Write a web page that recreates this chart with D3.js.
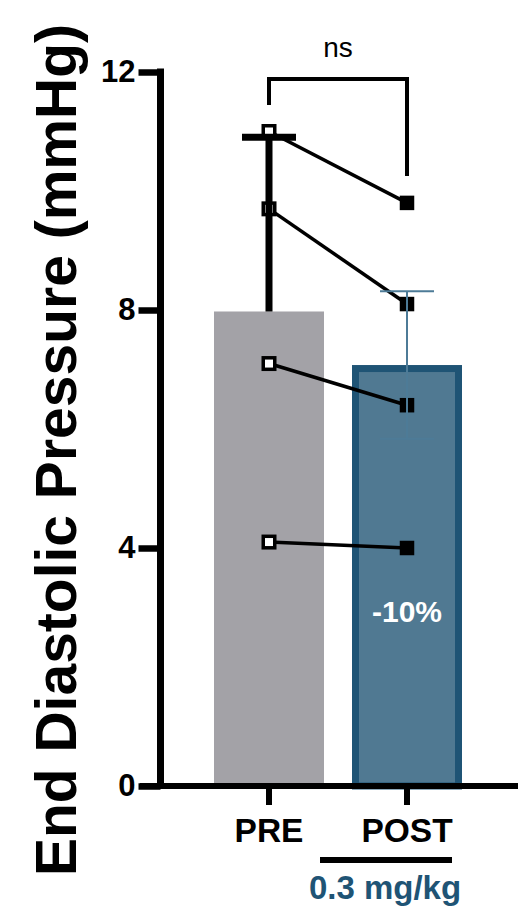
<!DOCTYPE html>
<html>
<head>
<meta charset="utf-8">
<script src="https://cdn.jsdelivr.net/npm/d3@7"></script>
<style>
  html, body { margin: 0; padding: 0; background: #fff; }
  svg { display: block; font-family: "Liberation Sans", Arial, Helvetica, sans-serif; }
</style>
</head>
<body>
<svg id="chart" width="529" height="906"></svg>
<script>
// Groups and values (mmHg)
const categories = ["PRE", "POST"];
const preValues = [11.0, 9.7, 7.1, 4.1];
const postValues = [9.8, 8.1, 6.4, 4.0];
const errorValues = [2.93, 1.24];          // PRE: upward only, POST: both directions
const yTicks = [0, 4, 8, 12];
const yTitle = "End Diastolic Pressure (mmHg)";
const changeLabel = "-10%";
const doseLabel = "0.3 mg/kg";
const sigLabel = "ns";

const means = [d3.mean(preValues), d3.mean(postValues)];

const svg = d3.select("#chart");

const y = d3.scaleLinear().domain([0, 12]).range([786, 72]);
const x = d3.scaleBand().domain(categories)
  .range([200, 476]).paddingInner(28 / 138).paddingOuter(14 / 138);
const cx = c => x(c) + x.bandwidth() / 2;

const axisX = 160.5;

// Bars
const preFill = "#a3a2a7";
const postFill = "#507992";
const postStroke = "#1f5475";
const postStrokeW = 7;

svg.append("rect")
  .attr("x", x("PRE")).attr("width", x.bandwidth())
  .attr("y", y(means[0])).attr("height", y(0) - y(means[0]))
  .attr("fill", preFill);

svg.append("rect")
  .attr("x", x("POST") + postStrokeW / 2).attr("width", x.bandwidth() - postStrokeW)
  .attr("y", y(means[1]) + postStrokeW / 2).attr("height", y(0) - y(means[1]) - postStrokeW / 2)
  .attr("fill", postFill).attr("stroke", postStroke).attr("stroke-width", postStrokeW);

// Paired lines between PRE and POST
const pairs = preValues.map((v, i) => [v, postValues[i]]);
svg.append("g").selectAll("line").data(pairs).join("line")
  .attr("x1", cx("PRE")).attr("y1", d => y(d[0]))
  .attr("x2", cx("POST")).attr("y2", d => y(d[1]))
  .attr("stroke", "#000").attr("stroke-width", 3.5);

// Markers
const ms = 11.5;
svg.append("g").selectAll("rect").data(preValues).join("rect")
  .attr("x", cx("PRE") - ms / 2).attr("y", d => y(d) - ms / 2)
  .attr("width", ms).attr("height", ms)
  .attr("fill", "#fff").attr("stroke", "#000").attr("stroke-width", 3.5);
const ms2 = 14.5;
svg.append("g").selectAll("rect").data(postValues).join("rect")
  .attr("x", cx("POST") - ms2 / 2).attr("y", d => y(d) - ms2 / 2)
  .attr("width", ms2).attr("height", ms2)
  .attr("fill", "#000");

// Error bars
const capW = 54;
const preTop = y(means[0] + errorValues[0]);
svg.append("line")
  .attr("x1", cx("PRE")).attr("x2", cx("PRE"))
  .attr("y1", y(means[0])).attr("y2", preTop)
  .attr("stroke", "#000").attr("stroke-width", 7);
svg.append("line")
  .attr("x1", cx("PRE") - capW / 2).attr("x2", cx("PRE") + capW / 2)
  .attr("y1", preTop).attr("y2", preTop)
  .attr("stroke", "#000").attr("stroke-width", 7);

const errCol = "#4d7b97";
const pHi = y(means[1] + errorValues[1]);
const pLo = y(means[1] - errorValues[1]);
svg.append("line")
  .attr("x1", cx("POST")).attr("x2", cx("POST"))
  .attr("y1", pLo).attr("y2", pHi)
  .attr("stroke", errCol).attr("stroke-width", 2);
[pHi, pLo].forEach(v => {
  svg.append("line")
    .attr("x1", cx("POST") - capW / 2).attr("x2", cx("POST") + capW / 2)
    .attr("y1", v).attr("y2", v)
    .attr("stroke", errCol).attr("stroke-width", 2);
});

// Y axis
const gy = svg.append("g").attr("transform", `translate(${axisX},0)`)
  .call(d3.axisLeft(y).tickValues(yTicks).tickFormat(d3.format("d"))
    .tickSize(22).tickSizeOuter(0).tickPadding(3));
gy.select(".domain").remove();
gy.selectAll(".tick line").attr("stroke", "#000").attr("stroke-width", 6.5);
gy.selectAll(".tick text").attr("fill", "#000")
  .style("font-size", "31px").style("font-weight", "bold")
  .attr("font-family", null);
svg.append("line")
  .attr("x1", axisX).attr("x2", axisX)
  .attr("y1", y(0) + 3).attr("y2", y(12) - 3.5)
  .attr("stroke", "#000").attr("stroke-width", 7);

// X axis
svg.append("line")
  .attr("x1", 140).attr("x2", 518)
  .attr("y1", y(0)).attr("y2", y(0))
  .attr("stroke", "#000").attr("stroke-width", 6);
const gx = svg.append("g").attr("transform", `translate(0,${y(0)})`)
  .call(d3.axisBottom(x).tickSize(19).tickSizeOuter(0));
gx.select(".domain").remove();
gx.selectAll(".tick line").attr("stroke", "#000").attr("stroke-width", 6);
gx.selectAll(".tick text").attr("fill", "#000")
  .attr("y", 56).attr("dy", null)
  .style("font-size", "33.5px").style("font-weight", "bold")
  .attr("font-family", null);

// Y axis title
svg.append("text")
  .attr("transform", "translate(76,450) rotate(-90)")
  .attr("text-anchor", "middle")
  .style("font-size", "57px").style("font-weight", "bold")
  .text(yTitle);

// Percent change inside POST bar
svg.append("text")
  .attr("x", cx("POST")).attr("y", 622)
  .attr("text-anchor", "middle").attr("fill", "#fff")
  .style("font-size", "30px").style("font-weight", "bold")
  .text(changeLabel);

// Dose line and label under POST
svg.append("line")
  .attr("x1", 320).attr("x2", 452).attr("y1", 860).attr("y2", 860)
  .attr("stroke", "#000").attr("stroke-width", 6);
svg.append("text")
  .attr("x", 385).attr("y", 899)
  .attr("text-anchor", "middle").attr("fill", "#1f5475")
  .style("font-size", "33px").style("font-weight", "bold")
  .text(doseLabel);

// Significance bracket
const brTop = 79;
svg.append("path")
  .attr("d", `M${cx("PRE")},105 V${brTop} H${cx("POST")} V176`)
  .attr("fill", "none").attr("stroke", "#000").attr("stroke-width", 4);
svg.append("text")
  .attr("x", (cx("PRE") + cx("POST")) / 2).attr("y", 57)
  .attr("text-anchor", "middle")
  .style("font-size", "28px")
  .text(sigLabel);
</script>
</body>
</html>
